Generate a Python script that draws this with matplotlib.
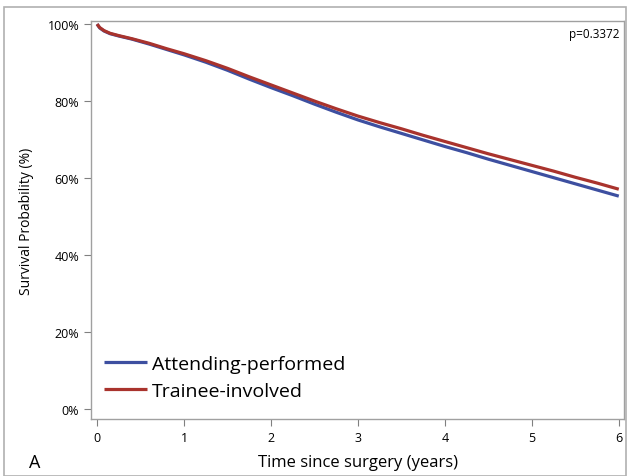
import matplotlib
matplotlib.use("Agg")
import matplotlib.pyplot as plt
from matplotlib.patches import Rectangle
from matplotlib.ticker import FuncFormatter

plt.rcParams['font.family'] = ['Open Sans', 'DejaVu Sans']

time_years = [0.0, 0.03, 0.08, 0.15, 0.25, 0.4, 0.6, 0.8, 1.0, 1.25, 1.5, 1.75, 2.0, 2.25, 2.5, 2.75,
              3.0, 3.25, 3.5, 3.75, 4.0, 4.25, 4.5, 4.75, 5.0, 5.25, 5.5, 5.75, 6.0]
attending = [100.0, 99.0, 98.2, 97.5, 96.9, 96.1, 94.8, 93.4, 92.0, 90.1, 88.0, 85.7, 83.5, 81.4, 79.2, 77.1,
             75.1, 73.3, 71.6, 69.9, 68.2, 66.6, 64.9, 63.3, 61.7, 60.1, 58.5, 56.9, 55.3]
trainee = [100.0, 99.1, 98.3, 97.6, 97.0, 96.2, 95.0, 93.6, 92.3, 90.5, 88.5, 86.3, 84.2, 82.1, 80.0, 78.0,
           76.1, 74.4, 72.8, 71.1, 69.5, 67.9, 66.3, 64.8, 63.3, 61.8, 60.2, 58.7, 57.1]
series_names = ["Attending-performed", "Trainee-involved"]
p_text = "p=0.3372"
x_ticks = [0, 1, 2, 3, 4, 5, 6]
y_ticks = [0, 20, 40, 60, 80, 100]

W, H = 627, 477
fig = plt.figure(figsize=(W / 100, H / 100), dpi=100)

# outer frame
fig.patches.append(Rectangle((4 / W, 0), (W - 5) / W, (H - 8) / H, transform=fig.transFigure,
                             fill=False, edgecolor='#b0b0b0', linewidth=1.2))

ax = fig.add_axes([91 / W, (H - 420) / H, (624 - 91) / W, (420 - 22) / H])
blue = '#3d4fa0'
red = '#a9332d'
ax.plot(time_years, attending, color=blue, linewidth=2.3, label=series_names[0], solid_capstyle='butt')
ax.plot(time_years, trainee, color=red, linewidth=2.3, label=series_names[1], solid_capstyle='butt')

ax.set_xlim(-0.07, 6.06)
ax.set_ylim(-2.6, 100.8)
ax.set_xticks(x_ticks)
ax.set_yticks(y_ticks)
ax.yaxis.set_major_formatter(FuncFormatter(lambda v, p: f"{int(v)}%"))
ax.tick_params(direction='out', length=5, color='#808080', labelsize=9, width=0.8)
for s in ax.spines.values():
    s.set_color('#a0a0a0')
    s.set_linewidth(1.0)

ax.set_xlabel("Time since surgery (years)", fontsize=12, labelpad=7)
ax.set_ylabel("Survival Probability (%)", fontsize=10, labelpad=10)
ax.text(0.992, 0.985, p_text, transform=ax.transAxes, ha='right', va='top', fontsize=8.5)

leg = ax.legend(loc='lower left', bbox_to_anchor=(-0.008, 0.005), frameon=False, fontsize=14,
                handlelength=2.2, handletextpad=0.25, labelspacing=0.45)

fig.text(35 / W, 1 - 463 / H, "A", fontsize=13, ha='center', va='center')

fig.savefig("out.png", dpi=100)
